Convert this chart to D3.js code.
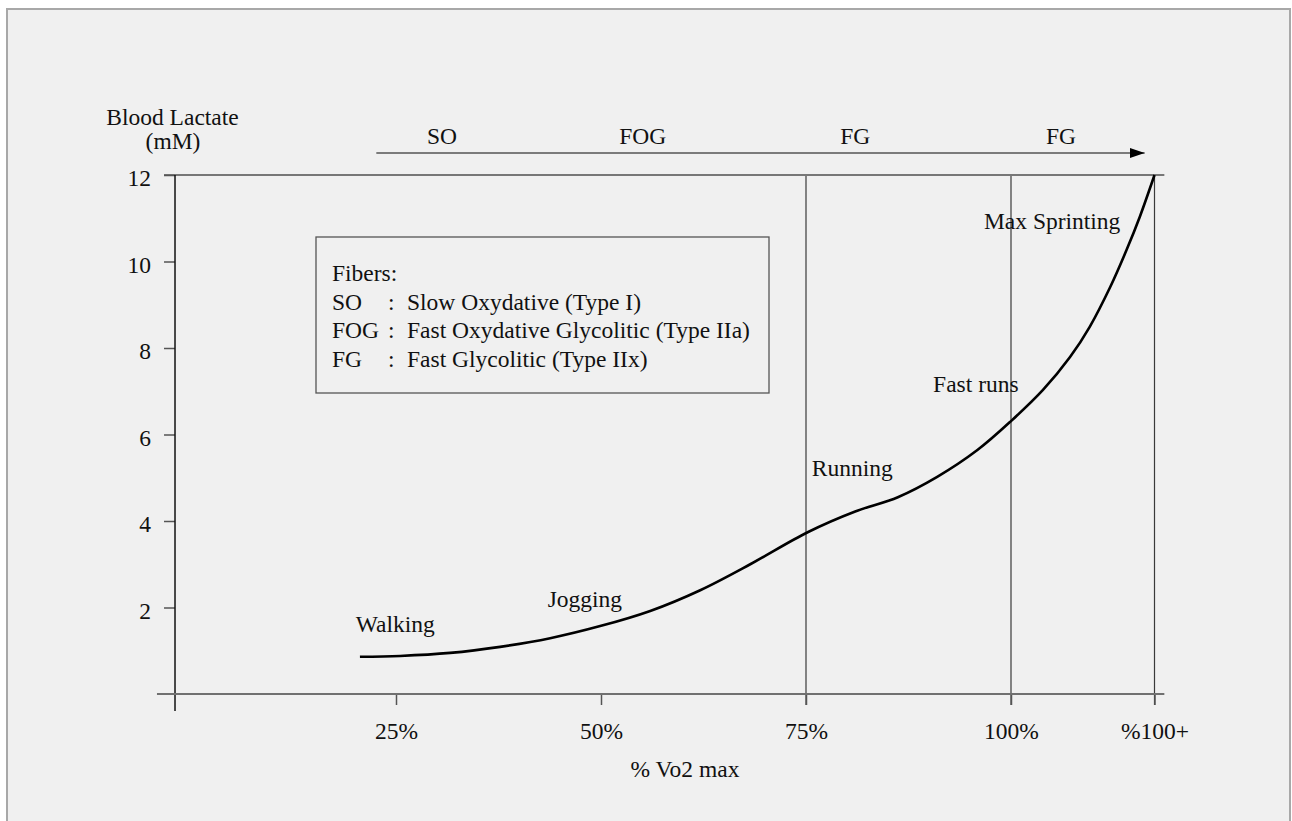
<!DOCTYPE html>
<html>
<head>
<meta charset="utf-8">
<script src="https://cdn.jsdelivr.net/npm/d3@7"></script>
<style>
  html, body { margin: 0; padding: 0; background: #ffffff; }
  svg { display: block; }
  text { font-family: "Liberation Serif", "Times New Roman", serif; fill: #111; }
</style>
</head>
<body>
<svg id="chart" width="1292" height="821"></svg>
<script>
// ---------------- data ----------------
const xTickValues = [25, 50, 75, 100, 117.5];
const xTickLabels = ["25%", "50%", "75%", "100%", "%100+"];
const yTickValues = [2, 4, 6, 8, 10, 12];
const zoneLines = [75, 100, 117.5];

// blood lactate curve: % VO2 max vs mM
const curveX = [20.6, 25.5, 31.6, 37.7, 43.8, 49.9, 56.0, 62.1, 68.2, 75.2, 81.0, 86.2, 91.0, 95.9, 100.0, 103.9, 107.2, 109.6, 112.1, 114.1, 115.7, 117.5];
const curveY = [0.86, 0.88, 0.95, 1.09, 1.29, 1.57, 1.92, 2.40, 3.00, 3.74, 4.22, 4.55, 5.02, 5.64, 6.31, 7.03, 7.79, 8.49, 9.41, 10.27, 11.03, 12.0];

// activity annotations
const activityNames = ["Walking", "Jogging", "Running", "Fast runs", "Max Sprinting"];
const activityX = [20.1, 43.5, 75.7, 90.5, 96.7];
const activityY = [1.43, 2.01, 5.04, 6.98, 10.75];

// fiber recruitment labels along top arrow
const fiberNames = ["SO", "FOG", "FG", "FG"];
const fiberX = [30.6, 55.1, 81.0, 106.1];
const arrowRange = [22.6, 116.3];

// legend
const legendTitle = "Fibers:";
const legendAbbr = ["SO", "FOG", "FG"];
const legendDesc = ["Slow Oxydative (Type I)", "Fast Oxydative Glycolitic (Type IIa)", "Fast Glycolitic (Type IIx)"];

const yAxisTitle = ["Blood Lactate", "(mM)"];
const xAxisTitle = "% Vo2 max";

// ---------------- layout ----------------
const FS = 23.5;
const svg = d3.select("#chart");

svg.append("rect")
  .attr("x", 7).attr("y", 9).attr("width", 1283).attr("height", 830)
  .attr("fill", "#f0f0f0").attr("stroke", "#a8a8a8").attr("stroke-width", 2);

const x = d3.scaleLinear().domain([25, 100]).range([396, 1011]);
const y = d3.scaleLinear().domain([0, 12]).range([694, 175]);

const axisX = x(-1.95);      // y-axis position
const xAxisLeft = x(-4.15);
const xAxisRight = x(118.7);

// zone vertical lines
svg.append("g").selectAll("line").data(zoneLines).join("line")
  .attr("x1", d => x(d)).attr("x2", d => x(d))
  .attr("y1", y(12)).attr("y2", y(0) + 11)
  .attr("stroke", "#3a3a3a").attr("stroke-width", 1.2);

// top gridline at 12
svg.append("line")
  .attr("x1", axisX - 11).attr("x2", xAxisRight)
  .attr("y1", y(12)).attr("y2", y(12))
  .attr("stroke", "#777").attr("stroke-width", 2);

// y axis
const gy = svg.append("g").attr("transform", `translate(${axisX},0)`)
  .call(d3.axisLeft(y).tickValues(yTickValues).tickSize(11).tickPadding(13).tickFormat(d3.format("d")));
gy.select(".domain").remove();
gy.selectAll(".tick line").attr("stroke", "#555").attr("stroke-width", 1.5);
gy.selectAll(".tick text")
  .attr("font-family", "Liberation Serif").attr("font-size", FS)
  .attr("fill", "#111").attr("dy", "0.46em");
svg.append("line")
  .attr("x1", axisX).attr("x2", axisX)
  .attr("y1", y(12)).attr("y2", y(0) + 17)
  .attr("stroke", "#111").attr("stroke-width", 1.5);

// x axis
const gx = svg.append("g").attr("transform", `translate(0,${y(0)})`)
  .call(d3.axisBottom(x).tickValues(xTickValues).tickSize(11)
        .tickFormat((d, i) => xTickLabels[i]));
gx.select(".domain").remove();
gx.selectAll(".tick line").attr("stroke", "#555").attr("stroke-width", 1.5);
gx.selectAll(".tick text")
  .attr("font-family", "Liberation Serif").attr("font-size", FS)
  .attr("fill", "#111").attr("y", 45).attr("dy", null);
svg.append("line")
  .attr("x1", xAxisLeft).attr("x2", xAxisRight)
  .attr("y1", y(0)).attr("y2", y(0))
  .attr("stroke", "#707070").attr("stroke-width", 2);

// curve
const pts = curveX.map((d, i) => [d, curveY[i]]);
svg.append("path")
  .datum(pts)
  .attr("fill", "none").attr("stroke", "#000").attr("stroke-width", 2.6)
  .attr("d", d3.line().x(d => x(d[0])).y(d => y(d[1])).curve(d3.curveCatmullRom.alpha(0.5)));

// activity labels
svg.append("g").selectAll("text").data(activityNames).join("text")
  .attr("x", (d, i) => x(activityX[i])).attr("y", (d, i) => y(activityY[i]))
  .attr("font-size", FS).text(d => d);

// top arrow
const arrowY = 153;
svg.append("defs").append("marker")
  .attr("id", "arrowhead").attr("viewBox", "0 0 15 10")
  .attr("refX", 15).attr("refY", 5)
  .attr("markerWidth", 15).attr("markerHeight", 10)
  .attr("markerUnits", "userSpaceOnUse").attr("orient", "auto")
  .append("path").attr("d", "M0,0 L15,5 L0,10 Z").attr("fill", "#000");
svg.append("line")
  .attr("x1", x(arrowRange[0])).attr("x2", x(arrowRange[1]))
  .attr("y1", arrowY).attr("y2", arrowY)
  .attr("stroke", "#555").attr("stroke-width", 1.6)
  .attr("marker-end", "url(#arrowhead)");
svg.append("g").selectAll("text").data(fiberNames).join("text")
  .attr("x", (d, i) => x(fiberX[i])).attr("y", arrowY - 9)
  .attr("text-anchor", "middle").attr("font-size", FS).text(d => d);

// legend box
const lg = svg.append("g");
lg.append("rect").attr("x", 316).attr("y", 237).attr("width", 453).attr("height", 156)
  .attr("fill", "none").attr("stroke", "#555").attr("stroke-width", 1.3);
lg.append("text").attr("x", 332).attr("y", 281).attr("font-size", FS).text(legendTitle);
legendAbbr.forEach((a, i) => {
  const by = 309.5 + i * 28.7;
  lg.append("text").attr("x", 332).attr("y", by).attr("font-size", FS).text(a);
  lg.append("text").attr("x", 388).attr("y", by).attr("font-size", FS).text(":");
  lg.append("text").attr("x", 407).attr("y", by).attr("font-size", FS).text(legendDesc[i]);
});

// axis titles
svg.append("text").attr("x", 172.5).attr("y", 125).attr("text-anchor", "middle")
  .attr("font-size", FS).text(yAxisTitle[0]);
svg.append("text").attr("x", 173).attr("y", 149).attr("text-anchor", "middle")
  .attr("font-size", FS).text(yAxisTitle[1]);
svg.append("text").attr("x", 685).attr("y", 777).attr("text-anchor", "middle")
  .attr("font-size", FS).text(xAxisTitle);
</script>
</body>
</html>
